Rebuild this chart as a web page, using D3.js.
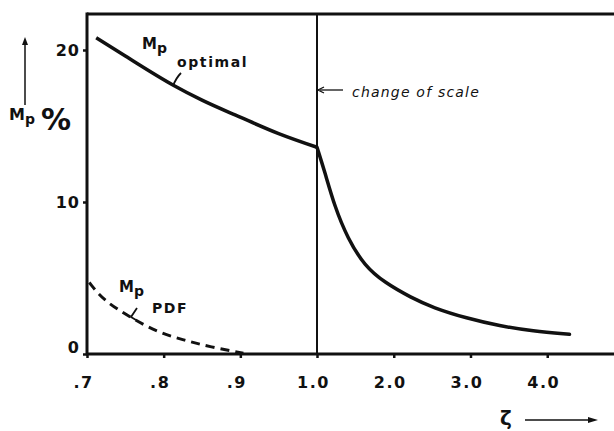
<!DOCTYPE html>
<html>
<head>
<meta charset="utf-8">
<script src="https://cdn.jsdelivr.net/npm/d3@7"></script>
<style>
  body { margin: 0; background: #fff; }
  svg { display: block; }
  .tick text { font-family: "DejaVu Sans", sans-serif; font-weight: bold; font-size: 16px; fill: #111; }
  .lbl { font-family: "DejaVu Sans", sans-serif; font-weight: bold; fill: #111; }
  .hand { font-family: "DejaVu Sans", sans-serif; font-style: italic; font-weight: 300; fill: #111; }
</style>
</head>
<body>
<svg width="614" height="431"></svg>
<script>
// damping ratio zeta (left part 0.7..1.0, right part 1.0..4.x on a compressed scale)
const zetaLow = [0.712, 0.75, 0.812, 0.85, 0.899, 0.95, 1.0];
const mpOptLow = [20.8, 19.6, 17.7, 16.7, 15.6, 14.5, 13.6];
const zetaHigh = [1.0, 1.10, 1.23, 1.40, 1.62, 1.88, 2.23, 2.51, 2.95, 3.38, 3.81, 4.29];
const mpOptHigh = [13.6, 12.0, 9.7, 7.6, 5.8, 4.7, 3.7, 3.05, 2.35, 1.85, 1.5, 1.3];
const zetaPdf = [0.703, 0.722, 0.757, 0.791, 0.826, 0.861, 0.904];
const mpPdf = [4.7, 3.5, 2.4, 1.45, 0.92, 0.46, 0.05];
const xTicks = [0.7, 0.8, 0.9, 1.0, 2.0, 3.0, 4.0];
const xTickLabels = ['.7', '.8', '.9', '1.0', '2.0', '3.0', '4.0'];
const yTicks = [0, 10, 20];

const svg = d3.select('svg');
// piecewise scale: change of scale at zeta = 1.0
const x = d3.scaleLinear().domain([0.7, 1.0, 4.87]).range([87, 317, 614]);
const y = d3.scaleLinear().domain([0, 20]).range([354, 50]);
const frameTop = 14;

// frame
svg.append('line').attr('x1', 87).attr('x2', 614).attr('y1', frameTop).attr('y2', frameTop)
   .attr('stroke', '#111').attr('stroke-width', 3);
svg.append('line').attr('x1', 87).attr('x2', 87).attr('y1', frameTop - 1.5).attr('y2', y(0))
   .attr('stroke', '#111').attr('stroke-width', 3);
svg.append('line').attr('x1', x(1)).attr('x2', x(1)).attr('y1', frameTop).attr('y2', y(0))
   .attr('stroke', '#111').attr('stroke-width', 2);

const xAxis = svg.append('g').attr('transform', 'translate(0,' + y(0) + ')')
  .call(d3.axisBottom(x).tickValues(xTicks).tickSize(4).tickPadding(19)
        .tickFormat((d, i) => xTickLabels[i]));
xAxis.select('.domain').remove();
xAxis.selectAll('.tick line').attr('stroke', '#111').attr('stroke-width', 2.5);
xAxis.selectAll('.tick text').attr('dx', -4).attr('letter-spacing', 1.5);
svg.append('line').attr('x1', 86).attr('x2', 614).attr('y1', y(0)).attr('y2', y(0))
   .attr('stroke', '#111').attr('stroke-width', 3);

const yAxis = svg.append('g').attr('transform', 'translate(87,0)')
  .call(d3.axisLeft(y).tickValues(yTicks).tickSize(4).tickPadding(3));
yAxis.select('.domain').remove();
yAxis.selectAll('.tick line').attr('stroke', '#111').attr('stroke-width', 2.5);
yAxis.selectAll('.tick text').attr('letter-spacing', 1);
yAxis.selectAll('.tick').filter(d => d === 0).select('text').attr('dy', '-0.1em');

// curves
const lineLow = d3.line().x(d => x(d[0])).y(d => y(d[1])).curve(d3.curveMonotoneX);
const lineSmooth = d3.line().x(d => x(d[0])).y(d => y(d[1])).curve(d3.curveBasis);
svg.append('path').datum(d3.zip(zetaLow, mpOptLow)).attr('d', lineLow)
   .attr('fill', 'none').attr('stroke', '#111').attr('stroke-width', 3.5);
svg.append('path').datum(d3.zip(zetaHigh, mpOptHigh)).attr('d', lineSmooth)
   .attr('fill', 'none').attr('stroke', '#111').attr('stroke-width', 3.5).attr('stroke-linecap', 'round');
svg.append('path').datum(d3.zip(zetaPdf, mpPdf)).attr('d', lineSmooth)
   .attr('fill', 'none').attr('stroke', '#111').attr('stroke-width', 3)
   .attr('stroke-dasharray', '9,6');

// curve labels
const optLbl = svg.append('text').attr('class', 'lbl').attr('x', 142).attr('y', 49).attr('font-size', 15);
optLbl.append('tspan').text('M');
optLbl.append('tspan').attr('dy', 4).attr('font-size', 14).text('p');
svg.append('text').attr('class', 'lbl').attr('x', 177).attr('y', 67).attr('font-size', 14)
   .attr('letter-spacing', 1.6).text('optimal');
svg.append('path').attr('d', 'M173,86 Q176,78 181,73').attr('fill', 'none').attr('stroke', '#111').attr('stroke-width', 1.8);

const pdfLbl = svg.append('text').attr('class', 'lbl').attr('x', 119).attr('y', 292).attr('font-size', 15);
pdfLbl.append('tspan').text('M');
pdfLbl.append('tspan').attr('dy', 4).attr('font-size', 14).text('p');
svg.append('text').attr('class', 'lbl').attr('x', 152).attr('y', 313).attr('font-size', 14)
   .attr('letter-spacing', 1.6).text('PDF');
svg.append('path').attr('d', 'M137,308 L131,317 L136,320').attr('fill', 'none').attr('stroke', '#111').attr('stroke-width', 1.8);

// y axis title with arrow
const yLbl = svg.append('text').attr('class', 'lbl').attr('x', 9).attr('y', 120).attr('font-size', 16);
yLbl.append('tspan').text('M');
yLbl.append('tspan').attr('dy', 4).attr('font-size', 14).text('p');
svg.append('text').attr('class', 'lbl').attr('x', 41).attr('y', 130).attr('font-size', 30)
   .attr('font-weight', 'normal').text('%');
svg.append('line').attr('x1', 25).attr('x2', 25).attr('y1', 105).attr('y2', 42)
   .attr('stroke', '#111').attr('stroke-width', 1.5);
svg.append('path').attr('d', 'M22,45 L25,37 L28,45 Z').attr('fill', '#111');

// change of scale note
svg.append('line').attr('x1', 343).attr('x2', 320).attr('y1', 90).attr('y2', 90)
   .attr('stroke', '#111').attr('stroke-width', 1.3);
svg.append('path').attr('d', 'M324,87 L318,90 L324,93').attr('fill', 'none').attr('stroke', '#111').attr('stroke-width', 1.3);
svg.append('text').attr('class', 'hand').attr('x', 352).attr('y', 97).attr('font-size', 14)
   .attr('letter-spacing', 1.2).text('change of scale');

// x axis title with arrow
svg.append('text').attr('class', 'lbl').attr('x', 500).attr('y', 425).attr('font-size', 20).text('ζ');
svg.append('line').attr('x1', 525).attr('x2', 592).attr('y1', 420).attr('y2', 420)
   .attr('stroke', '#111').attr('stroke-width', 1.5);
svg.append('path').attr('d', 'M588,417 L598,420 L588,423 Z').attr('fill', '#111');
</script>
</body>
</html>
